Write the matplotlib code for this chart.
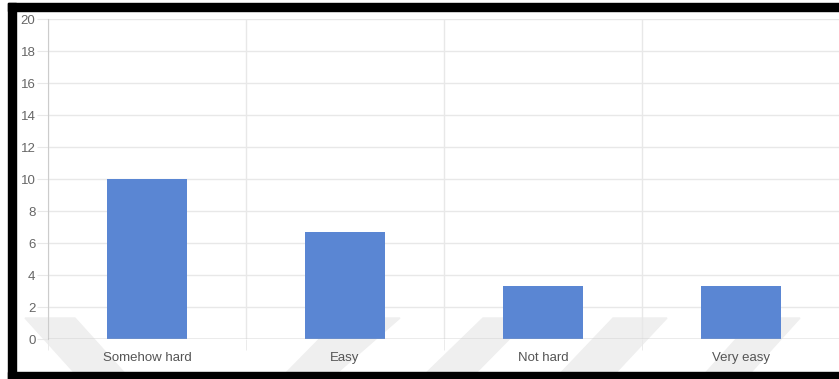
import matplotlib

matplotlib.use("Agg")
import matplotlib.pyplot as plt
from matplotlib.patches import Polygon, Rectangle

CATEGORIES = ["Somehow hard", "Easy", "Not hard", "Very easy"]
VALUES = [10, 6.67, 3.33, 3.33]
YTICKS = list(range(0, 21, 2))

plt.rcParams["font.family"] = ["Liberation Sans", "DejaVu Sans"]

W, H = 839, 379
fig = plt.figure(figsize=(W / 100, H / 100), dpi=100)
fig.patch.set_facecolor("white")


def px(x0, y0, x1, y1):
    # pixel box (from top-left) -> figure fraction [l, b, w, h]
    return [x0 / W, 1 - y1 / H, (x1 - x0) / W, (y1 - y0) / H]


# faint watermark stripes behind the chart
stripes = [
    [(25, 318), (75, 318), (130, 379), (80, 379)],
    [(340, 318), (400, 318), (330, 379), (280, 379)],
    [(483, 318), (530, 318), (470, 379), (420, 379)],
    [(613, 318), (667, 318), (610, 379), (555, 379)],
    [(755, 318), (800, 318), (745, 379), (700, 379)],
]
for pts in stripes:
    fig.patches.append(Polygon([(x / W, 1 - y / H) for x, y in pts], closed=True,
                               transform=fig.transFigure, color="#efefef", zorder=0))

ax = fig.add_axes(px(48, 19, 840, 339))
ax.set_facecolor("none")
ax.set_zorder(1)

x = range(len(CATEGORIES))
ax.bar(x, VALUES, width=0.4, color="#5a86d3", zorder=3)

ax.set_xlim(-0.5, len(CATEGORIES) - 0.5)
ax.set_ylim(0, 20)
ax.set_yticks(YTICKS)
ax.set_xticks(list(x))
ax.set_xticklabels(CATEGORIES, va="baseline")
ax.set_xticks([i - 0.5 for i in x], minor=True)

ax.grid(axis="y", color="#e8e8e8", lw=1, zorder=0)
ax.grid(axis="x", which="minor", color="#e8e8e8", lw=1, zorder=0)
ax.axhline(0, color="#b0b0b0", lw=1, zorder=4)

for s in ["top", "right", "bottom"]:
    ax.spines[s].set_visible(False)
ax.spines["left"].set_color("#cccccc")

ax.tick_params(axis="y", length=8, color="#e8e8e8", labelcolor="#666666", labelsize=9.5, pad=1)
ax.tick_params(axis="x", which="major", length=0, labelcolor="#555555", labelsize=9.5, pad=16)
ax.tick_params(axis="x", which="minor", length=8, color="#e8e8e8", direction="out")

# black frame around the screenshot
frame = [(8, 3, 839, 11), (8, 3, 16, 379), (8, 372, 839, 379)]
for x0, y0, x1, y1 in frame:
    l, b, w, h = px(x0, y0, x1, y1)
    fig.patches.append(Rectangle((l, b), w, h, transform=fig.transFigure,
                                 color="black", zorder=10))

fig.savefig("out.png", dpi=100)
